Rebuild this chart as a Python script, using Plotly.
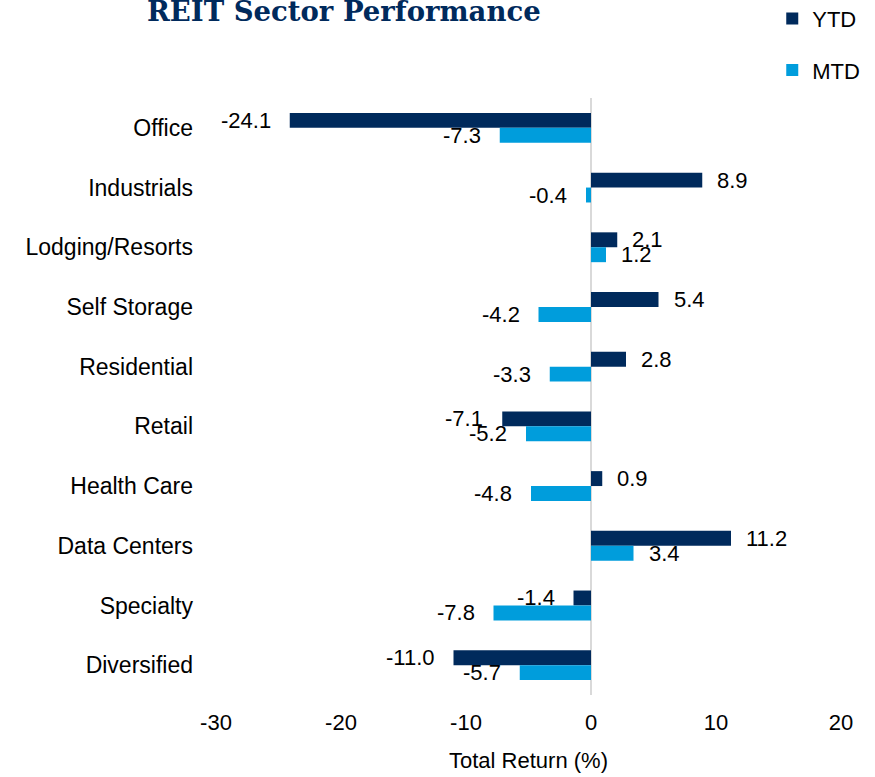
import plotly.graph_objects as go

# REIT sector total returns (%)
sectors = ["Office", "Industrials", "Lodging/Resorts", "Self Storage", "Residential",
           "Retail", "Health Care", "Data Centers", "Specialty", "Diversified"]
ytd = [-24.1, 8.9, 2.1, 5.4, 2.8, -7.1, 0.9, 11.2, -1.4, -11.0]
mtd = [-7.3, -0.4, 1.2, -4.2, -3.3, -5.2, -4.8, 3.4, -7.8, -5.7]
x_ticks = [-30, -20, -10, 0, 10, 20]

NAVY = "#002A5C"
BLUE = "#009DDC"
FONT = "Liberation Sans, Arial, sans-serif"

fig = go.Figure()
fig.add_trace(go.Bar(name="YTD", y=sectors, x=ytd, orientation="h",
                     marker=dict(color=NAVY, line=dict(width=0)), legendgroup="ytd"))
fig.add_trace(go.Bar(name="MTD", y=sectors, x=mtd, orientation="h",
                     marker=dict(color=BLUE, line=dict(width=0)), legendgroup="mtd"))

# value labels just beyond the end of each bar
annotations = []
for series, shift in ((ytd, 7.5), (mtd, -7.5)):
    for cat, v in zip(sectors, series):
        pos = v >= 0
        annotations.append(dict(
            x=v, y=cat, xref="x", yref="y", text=f"{v:.1f}", showarrow=False,
            xanchor="left" if pos else "right", yanchor="middle",
            xshift=13 if pos else -17, yshift=shift,
            font=dict(family=FONT, size=22, color="#000000")))

fig.update_layout(
    width=875, height=777,
    margin=dict(l=216, r=34, t=98, b=82, autoexpand=False),
    paper_bgcolor="white", plot_bgcolor="white",
    barmode="group", bargap=0.5, bargroupgap=0,
    font=dict(family=FONT, size=22, color="#000000"),
    title=dict(text="<b>REIT Sector Performance</b>",
               font=dict(family="DejaVu Serif, serif", size=27.5, color="#002A5C"),
               xref="container", yref="container", x=147 / 875, xanchor="left",
               y=1 - 21 / 777, yanchor="bottom", pad=dict(t=0, b=0, l=0, r=0)),
    legend=dict(x=0.89, xanchor="left", y=1.168, yanchor="top",
                font=dict(family=FONT, size=22, color="#000000"),
                tracegroupgap=20, itemwidth=30, bgcolor="rgba(0,0,0,0)"),
    annotations=annotations,
)
fig.update_xaxes(range=[-30, 20], tickvals=x_ticks, ticktext=[str(t) for t in x_ticks],
                 showgrid=False, zeroline=True, zerolinecolor="#D9D9D9", zerolinewidth=2,
                 showline=False, ticks="", ticklabelstandoff=12,
                 tickfont=dict(family=FONT, size=22, color="#000000"),
                 title=dict(text="Total Return (%)", standoff=18,
                            font=dict(family=FONT, size=22, color="#000000")))
fig.update_yaxes(autorange="reversed", showgrid=False, zeroline=False, showline=False,
                 ticks="", ticklabelstandoff=22,
                 tickfont=dict(family=FONT, size=23, color="#000000"))

fig.write_html("out.html")
